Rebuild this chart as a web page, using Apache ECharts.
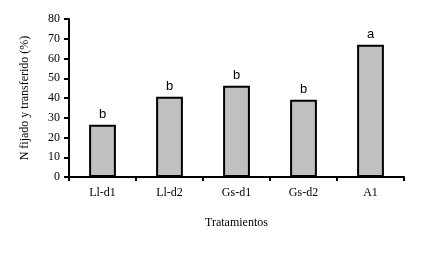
<!DOCTYPE html>
<html>
<head>
<meta charset="utf-8">
<style>
  html, body { margin: 0; padding: 0; background: #fff; }
  #chart { width: 433px; height: 255px; }
</style>
<script src="https://cdn.jsdelivr.net/npm/echarts@6/dist/echarts.min.js"></script>
</head>
<body>
<div id="chart"></div>
<script>
// data
const categories = ['Ll-d1', 'Ll-d2', 'Gs-d1', 'Gs-d2', 'A1']
const values = [26.5, 40.6, 46.2, 39.1, 67]
const letters = ['b', 'b', 'b', 'b', 'a']
const yTicks = [0, 10, 20, 30, 40, 50, 60, 70, 80]

const serif = '"Liberation Serif", "DejaVu Serif", serif'
const sans = '"Liberation Sans", Arial, sans-serif'

const chart = echarts.init(document.getElementById('chart'))

chart.setOption({
  animation: false,
  grid: {
    left: 69,
    right: 29,
    top: 19,
    bottom: 78
  },
  xAxis: {
    type: 'category',
    data: categories,
    name: 'Tratamientos',
    nameLocation: 'middle',
    nameGap: 40,
    nameTextStyle: { color: '#000', fontFamily: serif, fontSize: 12 },
    axisLine: { lineStyle: { color: '#000', width: 2 } },
    axisTick: { show: true, length: 4, lineStyle: { color: '#000', width: 2 } },
    axisLabel: { color: '#000', fontFamily: serif, fontSize: 12, margin: 10 }
  },
  yAxis: {
    type: 'value',
    min: yTicks[0],
    max: yTicks[yTicks.length - 1],
    interval: 10,
    name: 'N fijado y transferido (%)',
    nameLocation: 'middle',
    nameRotate: 90,
    nameGap: 38,
    nameTextStyle: { color: '#000', fontFamily: serif, fontSize: 12 },
    axisLine: { show: true, lineStyle: { color: '#000', width: 2 } },
    axisTick: { show: true, length: 5, lineStyle: { color: '#000', width: 2 } },
    axisLabel: { color: '#000', fontFamily: serif, fontSize: 12, margin: 9 },
    splitLine: { show: false }
  },
  series: [
    {
      type: 'bar',
      barWidth: '40%',
      data: values,
      itemStyle: {
        color: '#c0c0c0',
        borderColor: '#000',
        borderWidth: 2
      },
      label: {
        show: true,
        position: 'top',
        distance: 4,
        color: '#000',
        fontFamily: sans,
        fontSize: 13,
        formatter: p => letters[p.dataIndex]
      }
    }
  ]
})
</script>
</body>
</html>
